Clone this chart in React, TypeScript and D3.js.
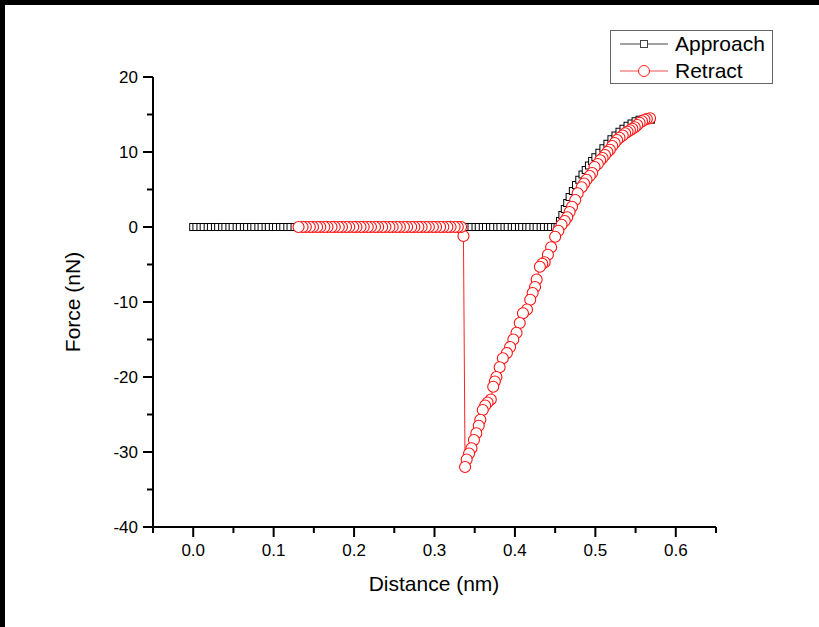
import { useEffect, useRef } from "react";
import * as d3 from "d3";

// approach: flat part (force ~ 0) then the contact rise
const approachFlatX = [
  0.0, 0.004, 0.009, 0.013, 0.018, 0.022, 0.027, 0.031, 0.036, 0.04, 0.045,
  0.049, 0.054, 0.058, 0.063, 0.067, 0.072, 0.076, 0.081, 0.085, 0.09, 0.094,
  0.099, 0.103, 0.108, 0.112, 0.117, 0.121, 0.126, 0.13, 0.135, 0.139, 0.144,
  0.148, 0.153, 0.157, 0.162, 0.166, 0.171, 0.175, 0.18, 0.184, 0.189, 0.193,
  0.198, 0.202, 0.207, 0.211, 0.216, 0.22, 0.225, 0.229, 0.234, 0.238, 0.243,
  0.247, 0.252, 0.256, 0.261, 0.265, 0.27, 0.274, 0.279, 0.283, 0.288, 0.292,
  0.297, 0.301, 0.306, 0.31, 0.315, 0.319, 0.324, 0.328, 0.333, 0.337, 0.342,
  0.346, 0.351, 0.355, 0.36, 0.364, 0.369, 0.373, 0.378, 0.382, 0.387, 0.391,
  0.396, 0.4, 0.405, 0.409, 0.414, 0.418, 0.423, 0.427, 0.432, 0.436, 0.441,
  0.445, 0.45,
];
const approachRise = [
  [0.453, 0], [0.456, 0.8], [0.459, 1.6], [0.462, 2.4], [0.465, 3.2],
  [0.468, 4.0], [0.472, 4.8], [0.476, 5.6], [0.48, 6.3], [0.484, 7.0],
  [0.488, 7.6], [0.492, 8.2], [0.496, 8.8], [0.5, 9.3], [0.505, 9.9],
  [0.51, 10.5], [0.515, 11.1], [0.52, 11.7], [0.525, 12.2], [0.53, 12.7],
  [0.535, 13.1], [0.54, 13.5], [0.545, 13.8], [0.55, 14.1], [0.555, 14.3],
  [0.56, 14.4], [0.565, 14.4], [0.569, 14.3],
];

// retract: unloading curve (high x -> low x), snap-off, then flat
const retractCurve = [
  [0.568, 14.5], [0.564, 14.4], [0.561, 14.3], [0.558, 14.1], [0.555, 13.9],
  [0.552, 13.6], [0.549, 13.3], [0.546, 13.1], [0.543, 12.9], [0.54, 12.7],
  [0.537, 12.5], [0.534, 12.2], [0.53, 11.9], [0.527, 11.6], [0.524, 11.2],
  [0.521, 10.8], [0.518, 10.3], [0.515, 10.0], [0.512, 9.6], [0.509, 9.2],
  [0.506, 8.9], [0.503, 8.4], [0.499, 8.0], [0.496, 7.2], [0.493, 6.8],
  [0.489, 6.3], [0.486, 5.8], [0.483, 5.3], [0.478, 4.5], [0.475, 3.6],
  [0.471, 2.7], [0.468, 2.0], [0.465, 1.3], [0.462, 0.8], [0.458, 0.3],
  [0.454, -0.5], [0.45, -1.3], [0.445, -2.7], [0.441, -3.7], [0.437, -4.7],
  [0.434, -4.9], [0.431, -5.3], [0.427, -7.0], [0.425, -8.0], [0.422, -8.8],
  [0.419, -9.7], [0.415, -11.0], [0.41, -11.5], [0.406, -12.8], [0.402, -14.1],
  [0.398, -15.0], [0.394, -16.0], [0.39, -16.8], [0.385, -17.5], [0.381, -18.7],
  [0.377, -20.0], [0.375, -20.6], [0.373, -21.3], [0.37, -23.0], [0.366, -23.4],
  [0.363, -23.8], [0.36, -24.4], [0.357, -25.7], [0.355, -26.5], [0.352, -27.5],
  [0.349, -28.4], [0.346, -29.5], [0.343, -30.2], [0.34, -31.0], [0.338, -32.0],
  [0.336, -1.2],
];
const retractFlatX = [
  0.333, 0.329, 0.325, 0.32, 0.316, 0.311, 0.307, 0.302, 0.298, 0.293, 0.289,
  0.284, 0.28, 0.275, 0.271, 0.266, 0.262, 0.257, 0.253, 0.248, 0.244, 0.239,
  0.235, 0.23, 0.226, 0.221, 0.217, 0.212, 0.208, 0.203, 0.199, 0.194, 0.19,
  0.185, 0.181, 0.176, 0.172, 0.167, 0.163, 0.158, 0.154, 0.149, 0.145, 0.14,
  0.136, 0.131,
];

const xTicks = [0.0, 0.1, 0.2, 0.3, 0.4, 0.5, 0.6];
const xMinorTicks = [-0.05, 0.05, 0.15, 0.25, 0.35, 0.45, 0.55, 0.65];
const yTicks = [-40, -30, -20, -10, 0, 10, 20];
const yMinorTicks = [-35, -25, -15, -5, 5, 15];

const FONT = "'Liberation Sans', Arial, sans-serif";

export default function App() {
  const svgRef = useRef<SVGSVGElement>(null);

  useEffect(() => {
    const width = 819;
    const height = 627;
    const svg = d3.select(svgRef.current);
    svg.selectAll("*").remove();

    svg.append("rect").attr("width", width).attr("height", height).attr("fill", "white");
    // black edge strips of the scanned figure
    svg.append("rect").attr("x", 0).attr("y", 0).attr("width", width).attr("height", 5).attr("fill", "black");
    svg.append("rect").attr("x", 0).attr("y", 0).attr("width", 5).attr("height", height).attr("fill", "black");

    const x = d3.scaleLinear().domain([-0.05, 0.65]).range([153, 716]);
    const y = d3.scaleLinear().domain([-40, 20]).range([527, 77]);

    const approach = [
      ...approachFlatX.map((d) => [d, 0]),
      ...approachRise,
    ];
    const retract = [...retractCurve, ...retractFlatX.map((d) => [d, 0])];

    const line = d3
      .line<number[]>()
      .x((d) => x(d[0]))
      .y((d) => y(d[1]));

    // approach series
    svg
      .append("path")
      .attr("d", line(approach))
      .attr("fill", "none")
      .attr("stroke", "#111")
      .attr("stroke-width", 1);
    svg
      .append("g")
      .selectAll("rect")
      .data(approach)
      .enter()
      .append("rect")
      .attr("x", (d) => x(d[0]) - 3.5)
      .attr("y", (d) => y(d[1]) - 3.5)
      .attr("width", 7)
      .attr("height", 7)
      .attr("fill", "white")
      .attr("stroke", "#000")
      .attr("stroke-width", 1);

    // retract series
    svg
      .append("path")
      .attr("d", line(retract))
      .attr("fill", "none")
      .attr("stroke", "#ff2020")
      .attr("stroke-width", 1);
    svg
      .append("g")
      .selectAll("circle")
      .data(retract)
      .enter()
      .append("circle")
      .attr("cx", (d) => x(d[0]))
      .attr("cy", (d) => y(d[1]))
      .attr("r", 5.5)
      .attr("fill", "white")
      .attr("stroke", "#ff1010")
      .attr("stroke-width", 1.1);

    // axes
    const axis = svg.append("g").attr("stroke", "black").attr("stroke-width", 2);
    axis.append("line").attr("x1", 153).attr("x2", 153).attr("y1", y(20)).attr("y2", 528);
    axis.append("line").attr("x1", 152).attr("x2", 716).attr("y1", 527).attr("y2", 527);

    xTicks.forEach((t) => {
      axis.append("line").attr("x1", x(t)).attr("x2", x(t)).attr("y1", 527).attr("y2", 537);
      svg
        .append("text")
        .attr("x", x(t))
        .attr("y", 556)
        .attr("text-anchor", "middle")
        .style("font-family", FONT)
        .style("font-size", "17px")
        .text(t.toFixed(1));
    });
    xMinorTicks.forEach((t) => {
      axis.append("line").attr("x1", x(t)).attr("x2", x(t)).attr("y1", 527).attr("y2", 533);
    });
    yTicks.forEach((t) => {
      axis.append("line").attr("x1", 143).attr("x2", 153).attr("y1", y(t)).attr("y2", y(t));
      svg
        .append("text")
        .attr("x", 138)
        .attr("y", y(t) + 6)
        .attr("text-anchor", "end")
        .style("font-family", FONT)
        .style("font-size", "17px")
        .text(t);
    });
    yMinorTicks.forEach((t) => {
      axis.append("line").attr("x1", 147).attr("x2", 153).attr("y1", y(t)).attr("y2", y(t));
    });

    svg
      .append("text")
      .attr("x", 434)
      .attr("y", 591)
      .attr("text-anchor", "middle")
      .style("font-family", FONT)
      .style("font-size", "21px")
      .text("Distance (nm)");
    svg
      .append("text")
      .attr("transform", "translate(80,302) rotate(-90)")
      .attr("text-anchor", "middle")
      .style("font-family", FONT)
      .style("font-size", "21px")
      .text("Force (nN)");

    // legend
    const lg = svg.append("g");
    lg.append("rect")
      .attr("x", 610.5)
      .attr("y", 30.5)
      .attr("width", 162)
      .attr("height", 53)
      .attr("fill", "white")
      .attr("stroke", "#666")
      .attr("stroke-width", 1);
    lg.append("line").attr("x1", 620).attr("x2", 668).attr("y1", 44).attr("y2", 44).attr("stroke", "#444");
    lg.append("rect").attr("x", 640.5).attr("y", 40.5).attr("width", 7).attr("height", 7).attr("fill", "white").attr("stroke", "#444");
    lg.append("text")
      .attr("x", 675)
      .attr("y", 51)
      .style("font-family", FONT)
      .style("font-size", "21px")
      .text("Approach");
    lg.append("line").attr("x1", 620).attr("x2", 668).attr("y1", 71).attr("y2", 71).attr("stroke", "#f05050");
    lg.append("circle").attr("cx", 644).attr("cy", 71).attr("r", 5.5).attr("fill", "white").attr("stroke", "#ff2020");
    lg.append("text")
      .attr("x", 675)
      .attr("y", 78)
      .style("font-family", FONT)
      .style("font-size", "21px")
      .text("Retract");
  }, []);

  return (
    <svg
      ref={svgRef}
      width={819}
      height={627}
      style={{ position: "absolute", left: 0, top: 0, display: "block" }}
    />
  );
}
